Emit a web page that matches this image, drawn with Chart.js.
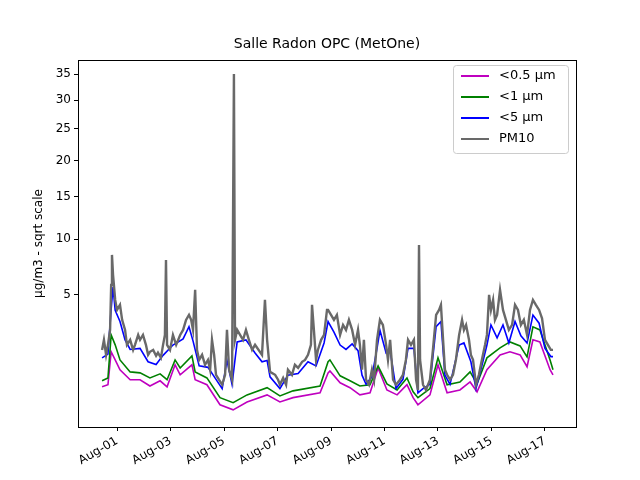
<!DOCTYPE html>
<html>
<head>
<meta charset="utf-8">
<script src="https://cdn.jsdelivr.net/npm/chart.js@4/dist/chart.umd.min.js"></script>
<style>
  html, body { margin: 0; padding: 0; background: #fff; }
  #wrap { width: 640px; height: 480px; }
</style>
</head>
<body>
<div id="wrap"><canvas id="opcChart" width="640" height="480"></canvas></div>
<script>
// days since Aug-01 00:00, concentration in µg/m3
const pm05 = [
    [-0.56, 0.49], [-0.34, 0.54], [-0.22, 1.65], [-0.07, 1.32], [0.11, 0.97], [0.49, 0.67],
    [0.86, 0.67], [1.23, 0.51], [1.61, 0.64], [1.87, 0.49], [2.17, 1.14], [2.36, 0.81],
    [2.80, 1.14], [2.92, 0.67], [3.36, 0.54], [3.85, 0.16], [4.34, 0.10], [4.86, 0.20],
    [5.61, 0.32], [6.09, 0.20], [6.58, 0.27], [7.59, 0.36], [7.89, 0.87], [7.96, 0.93],
    [8.34, 0.59], [8.71, 0.47], [9.08, 0.32], [9.46, 0.36], [9.76, 1.03], [10.09, 0.42],
    [10.47, 0.32], [10.84, 0.54], [11.07, 0.27], [11.25, 0.16], [11.70, 0.32], [12.00, 1.14],
    [12.34, 0.36], [12.82, 0.42], [13.20, 0.61], [13.46, 0.38], [13.83, 0.97], [14.32, 1.52],
    [14.69, 1.65], [15.07, 1.52], [15.33, 1.07], [15.55, 2.20], [15.81, 2.10], [16.19, 0.97],
    [16.30, 0.81]
];
const pm1 = [
    [-0.56, 0.64], [-0.34, 0.72], [-0.22, 2.45], [-0.07, 1.96], [0.11, 1.32], [0.49, 0.90],
    [0.86, 0.87], [1.23, 0.72], [1.61, 0.84], [1.87, 0.67], [2.17, 1.32], [2.36, 1.03],
    [2.80, 1.48], [2.92, 0.90], [3.36, 0.72], [3.85, 0.27], [4.34, 0.19], [4.86, 0.32],
    [5.61, 0.47], [6.09, 0.30], [6.58, 0.40], [7.59, 0.51], [7.89, 1.25], [7.96, 1.32],
    [8.34, 0.78], [8.71, 0.64], [9.08, 0.51], [9.46, 0.54], [9.76, 1.10], [10.09, 0.56],
    [10.47, 0.42], [10.84, 0.72], [11.07, 0.38], [11.25, 0.27], [11.70, 0.45], [12.00, 1.40],
    [12.34, 0.54], [12.82, 0.61], [13.20, 0.90], [13.46, 0.56], [13.83, 1.40], [14.32, 1.82],
    [14.69, 2.10], [15.07, 1.91], [15.33, 1.44], [15.55, 2.89], [15.81, 2.72], [16.19, 1.32],
    [16.30, 0.97]
];
const pm5 = [
    [-0.56, 1.40], [-0.34, 1.55], [-0.22, 4.0], [-0.15, 5.6], [-0.07, 3.9], [0.11, 3.2],
    [0.30, 2.2], [0.49, 1.75], [0.86, 1.8], [1.16, 1.25], [1.46, 1.15], [1.72, 1.5],
    [2.09, 1.95], [2.47, 2.25], [2.69, 2.9], [2.84, 2.15], [3.07, 1.1], [3.40, 1.05],
    [3.70, 0.68], [3.93, 0.45], [4.11, 1.3], [4.30, 0.55], [4.49, 2.1], [4.82, 2.2],
    [5.16, 1.6], [5.42, 1.25], [5.61, 1.3], [5.72, 0.75], [6.09, 0.45], [6.39, 0.8],
    [6.77, 0.85], [7.14, 1.25], [7.44, 1.1], [7.74, 2.05], [7.89, 3.2], [8.11, 2.6],
    [8.34, 1.95], [8.56, 1.75], [8.79, 2.0], [9.01, 1.7], [9.16, 0.8], [9.31, 0.55],
    [9.53, 0.75], [9.72, 1.8], [9.83, 2.7], [10.06, 1.6], [10.21, 1.7], [10.43, 0.45],
    [10.69, 0.68], [10.88, 1.8], [11.10, 1.8], [11.25, 0.36], [11.44, 0.45], [11.70, 0.55],
    [11.93, 2.9], [12.11, 3.2], [12.26, 0.8], [12.45, 0.55], [12.79, 1.95], [12.97, 2.05],
    [13.23, 1.25], [13.42, 0.45], [13.64, 1.1], [13.83, 1.95], [13.98, 3.0], [14.21, 2.3],
    [14.43, 3.0], [14.65, 2.05], [14.88, 3.2], [15.10, 2.4], [15.33, 2.05], [15.55, 3.6],
    [15.78, 3.1], [16.00, 1.8], [16.22, 1.45], [16.30, 1.45]
];
const pm10 = [
    [-0.56, 1.73], [-0.49, 2.20], [-0.41, 1.52], [-0.34, 1.96], [-0.26, 2.72], [-0.22, 5.76],
    [-0.19, 8.41], [-0.15, 6.59], [-0.07, 4.62], [0.00, 3.93], [0.11, 4.27], [0.19, 3.30],
    [0.30, 2.72], [0.37, 1.96], [0.49, 2.20], [0.60, 1.73], [0.67, 1.96], [0.79, 2.45],
    [0.86, 2.20], [0.97, 2.45], [1.08, 1.96], [1.16, 1.52], [1.23, 1.65], [1.35, 1.73],
    [1.46, 1.48], [1.53, 1.61], [1.64, 1.40], [1.72, 1.96], [1.79, 2.45], [1.83, 7.93],
    [1.87, 1.96], [1.98, 1.73], [2.09, 2.45], [2.21, 1.96], [2.36, 2.45], [2.47, 2.72],
    [2.58, 3.30], [2.69, 3.61], [2.77, 3.30], [2.84, 2.72], [2.92, 5.37], [2.99, 1.73],
    [3.07, 1.32], [3.18, 1.52], [3.29, 1.14], [3.40, 1.32], [3.48, 0.97], [3.55, 2.20],
    [3.63, 1.52], [3.70, 0.81], [3.81, 0.67], [3.93, 0.54], [4.04, 0.81], [4.11, 2.72],
    [4.19, 0.97], [4.30, 0.67], [4.37, 35.0], [4.41, 2.20], [4.49, 2.72], [4.60, 2.45],
    [4.71, 2.20], [4.82, 2.72], [4.93, 2.20], [5.05, 1.73], [5.16, 1.96], [5.42, 1.52],
    [5.53, 4.62], [5.61, 2.20], [5.72, 0.90], [5.91, 0.81], [6.02, 0.67], [6.09, 0.54],
    [6.21, 0.72], [6.32, 0.54], [6.39, 0.97], [6.54, 0.81], [6.65, 1.14], [6.77, 1.03],
    [6.92, 1.25], [7.03, 1.32], [7.14, 1.52], [7.25, 1.96], [7.29, 4.27], [7.36, 2.72],
    [7.44, 1.32], [7.51, 1.73], [7.63, 2.20], [7.74, 2.45], [7.85, 3.93], [7.89, 3.93],
    [8.00, 3.61], [8.11, 3.30], [8.22, 3.61], [8.34, 2.45], [8.45, 3.00], [8.56, 2.72],
    [8.67, 3.30], [8.79, 2.72], [8.90, 1.96], [9.01, 2.72], [9.08, 1.96], [9.16, 0.97],
    [9.23, 2.20], [9.31, 0.67], [9.42, 0.54], [9.53, 0.97], [9.61, 0.67], [9.72, 2.20],
    [9.83, 3.30], [9.94, 3.00], [10.06, 1.96], [10.13, 1.32], [10.21, 2.20], [10.32, 0.67],
    [10.43, 0.54], [10.58, 0.67], [10.69, 0.81], [10.80, 1.32], [10.88, 2.20], [10.99, 1.96],
    [11.10, 2.20], [11.18, 0.67], [11.25, 0.42], [11.29, 9.40], [11.33, 1.32], [11.44, 0.54],
    [11.55, 0.42], [11.70, 0.67], [11.81, 1.73], [11.93, 3.61], [12.04, 3.93], [12.11, 4.27],
    [12.19, 2.20], [12.26, 0.97], [12.34, 0.81], [12.45, 0.67], [12.56, 0.81], [12.67, 1.32],
    [12.79, 2.45], [12.90, 3.30], [12.97, 2.72], [13.05, 3.00], [13.16, 2.20], [13.23, 1.52],
    [13.31, 1.32], [13.42, 0.54], [13.53, 0.81], [13.64, 1.32], [13.76, 1.96], [13.83, 2.45],
    [13.91, 4.99], [13.98, 3.93], [14.06, 4.62], [14.13, 3.30], [14.21, 3.61], [14.32, 5.37],
    [14.43, 3.93], [14.54, 3.30], [14.65, 2.72], [14.77, 3.00], [14.88, 4.27], [14.99, 3.93],
    [15.10, 3.00], [15.21, 3.30], [15.33, 2.45], [15.44, 3.93], [15.55, 4.62], [15.66, 4.27],
    [15.78, 3.93], [15.89, 3.40], [16.00, 2.20], [16.11, 1.96], [16.22, 1.73], [16.30, 1.73]
];

// lower order ends up on top, so PM10 gets 0
const series = [
    { label: "<0.5 µm", data: pm05, color: "#bf00bf", order: 3, width: 1.6 },
    { label: "<1 µm", data: pm1, color: "#008000", order: 2, width: 1.6 },
    { label: "<5 µm", data: pm5, color: "#0000ff", order: 1, width: 1.6 },
    { label: "PM10", data: pm10, color: "#696969", order: 0, width: 2.4 }
];

// y axis is a sqrt scale: plot sqrt(value), label ticks with the value
const toPoints = arr => arr.map(([d, v]) => ({ x: d, y: Math.sqrt(v) }));
const yTicks = [5, 10, 15, 20, 25, 30, 35];
const months = d => "Aug-" + String(d + 1).padStart(2, "0");

const FONT = "'DejaVu Sans', sans-serif";

const overlay = {
    id: "overlay",
    afterDraw(chart) {
        const ctx = chart.ctx;
        const a = chart.chartArea;
        ctx.save();
        // frame on all four sides
        ctx.strokeStyle = "#000";
        ctx.lineWidth = 1;
        ctx.strokeRect(a.left + 0.5, a.top + 0.5, a.right - a.left, a.bottom - a.top);

        ctx.fillStyle = "#000";
        ctx.font = "14px " + FONT;
        ctx.textAlign = "center";
        ctx.textBaseline = "middle";
        ctx.fillText("Salle Radon OPC (MetOne)", (a.left + a.right) / 2, 44);

        ctx.save();
        ctx.translate(39, (a.top + a.bottom) / 2);
        ctx.rotate(-Math.PI / 2);
        ctx.font = "12px " + FONT;
        ctx.fillText("µg/m3 - sqrt scale", 0, 0);
        ctx.restore();

        // legend box, upper right inside the axes
        const bx = 453, by = 65, bw = 115, bh = 88;
        ctx.fillStyle = "rgba(255,255,255,0.8)";
        ctx.strokeStyle = "#ccc";
        ctx.lineWidth = 1;
        ctx.beginPath();
        ctx.roundRect(bx + 0.5, by + 0.5, bw, bh, 3);
        ctx.fill();
        ctx.stroke();
        ctx.font = "13px " + FONT;
        ctx.textAlign = "left";
        series.forEach((s, i) => {
            const yy = by + 11 + i * 21;
            ctx.strokeStyle = s.color;
            ctx.lineWidth = 2;
            ctx.beginPath();
            ctx.moveTo(bx + 8, yy);
            ctx.lineTo(bx + 36, yy);
            ctx.stroke();
            ctx.fillStyle = "#000";
            ctx.fillText(s.label, bx + 46, yy);
        });
        ctx.restore();
    }
};

new Chart(document.getElementById("opcChart"), {
    type: "scatter",
    data: {
        datasets: series.map(s => ({
            label: s.label,
            data: toPoints(s.data),
            showLine: true,
            borderColor: s.color,
            backgroundColor: s.color,
            borderWidth: s.width,
            pointRadius: 0,
            order: s.order
        }))
    },
    options: {
        responsive: false,
        animation: false,
        layout: { padding: { top: 60, right: 64, left: 0, bottom: 0 } },
        plugins: {
            legend: { display: false },
            title: { display: false },
            tooltip: { enabled: false }
        },
        scales: {
            x: {
                type: "linear",
                min: -1.46,
                max: 17.16,
                afterBuildTicks: axis => {
                    axis.ticks = [0, 2, 4, 6, 8, 10, 12, 14, 16].map(v => ({ value: v }));
                },
                afterFit: axis => { axis.height = 53; },
                ticks: {
                    callback: v => months(v),
                    color: "#000",
                    font: { family: FONT, size: 12 },
                    maxRotation: 30,
                    minRotation: 30
                },
                grid: { drawOnChartArea: false, color: "#000", tickLength: 4 },
                border: { color: "#000" }
            },
            y: {
                min: 0.03,
                max: 6.15,
                afterBuildTicks: axis => {
                    axis.ticks = yTicks.map(v => ({ value: Math.sqrt(v) }));
                },
                afterFit: axis => { axis.width = 78; },
                ticks: {
                    callback: v => String(Math.round(v * v)),
                    color: "#000",
                    font: { family: FONT, size: 12 }
                },
                grid: { drawOnChartArea: false, color: "#000", tickLength: 4 },
                border: { color: "#000" }
            }
        }
    },
    plugins: [overlay]
});
</script>
</body>
</html>
